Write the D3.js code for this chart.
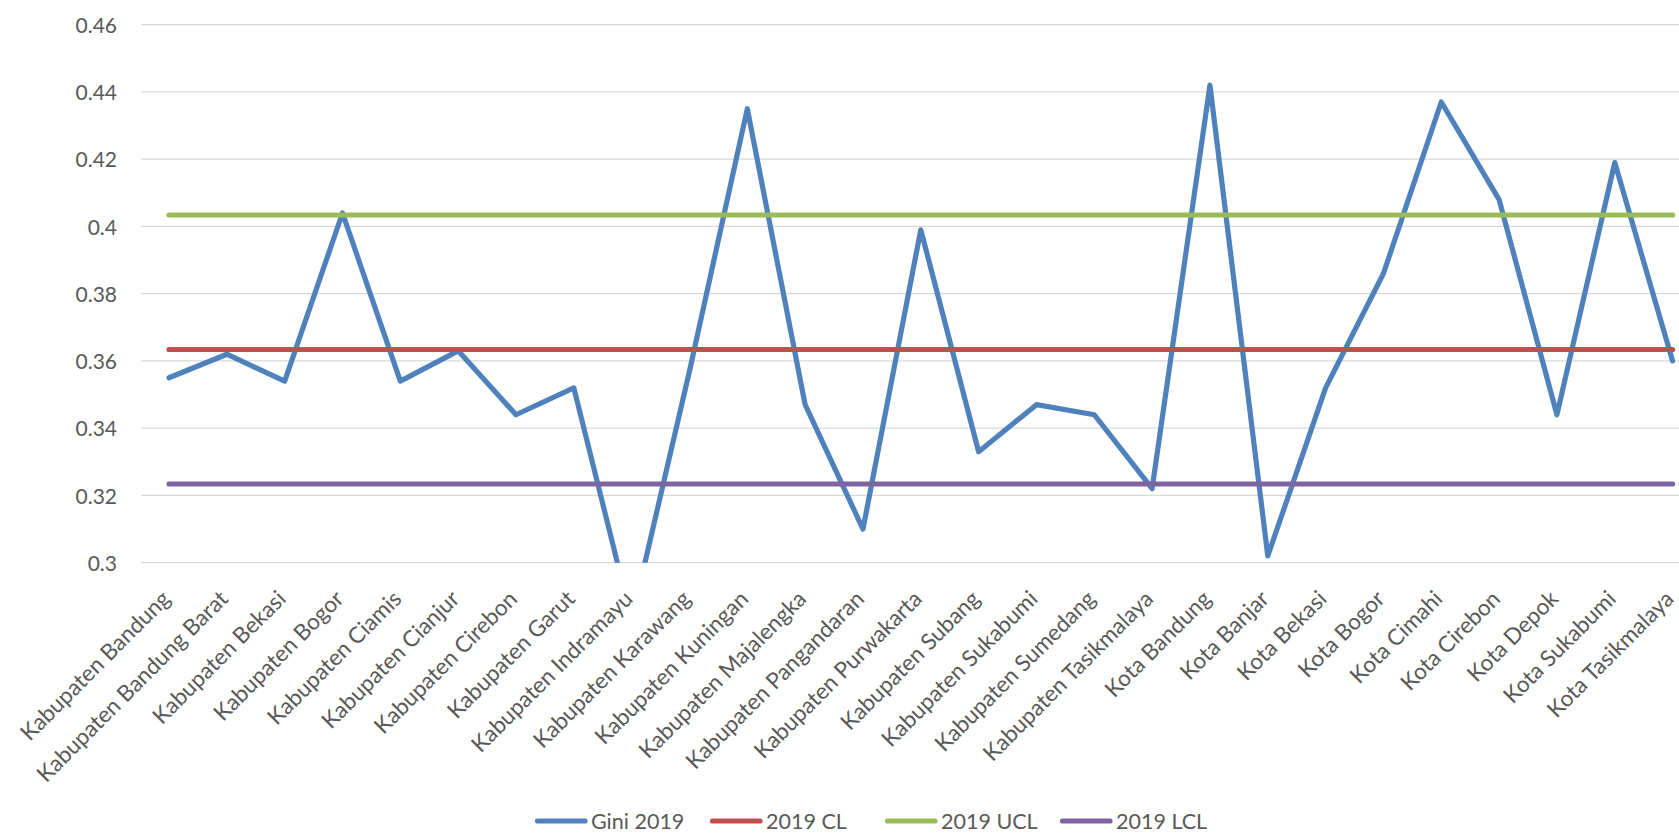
<!DOCTYPE html>
<html>
<head>
<meta charset="utf-8">
<script src="https://cdn.jsdelivr.net/npm/d3@7"></script>
<style>
  html, body { margin: 0; padding: 0; background: #fff; }
  svg { display: block; }
  text { font-family: Lato, "Open Sans", sans-serif; fill: #595959; }
</style>
</head>
<body>
<div id="chart"></div>
<script>
// Regencies (Kabupaten) and cities (Kota) of West Java
const categories = [
  "Kabupaten Bandung", "Kabupaten Bandung Barat", "Kabupaten Bekasi", "Kabupaten Bogor",
  "Kabupaten Ciamis", "Kabupaten Cianjur", "Kabupaten Cirebon", "Kabupaten Garut",
  "Kabupaten Indramayu", "Kabupaten Karawang", "Kabupaten Kuningan", "Kabupaten Majalengka",
  "Kabupaten Pangandaran", "Kabupaten Purwakarta", "Kabupaten Subang", "Kabupaten Sukabumi",
  "Kabupaten Sumedang", "Kabupaten Tasikmalaya", "Kota Bandung", "Kota Banjar",
  "Kota Bekasi", "Kota Bogor", "Kota Cimahi", "Kota Cirebon",
  "Kota Depok", "Kota Sukabumi", "Kota Tasikmalaya"
];

// Gini ratio 2019
const gini2019 = [
  0.355, 0.362, 0.354, 0.404, 0.354, 0.363, 0.344, 0.352,
  0.283, 0.357, 0.435, 0.347, 0.310, 0.399, 0.333, 0.347,
  0.344, 0.322, 0.442, 0.302, 0.352, 0.386, 0.437, 0.408,
  0.344, 0.419, 0.360
];

// Control chart limits
const cl2019 = 0.3634;
const ucl2019 = 0.4034;
const lcl2019 = 0.3234;

const yTicks = [0.30, 0.32, 0.34, 0.36, 0.38, 0.40, 0.42, 0.44, 0.46];
const yTickLabels = ["0.3", "0.32", "0.34", "0.36", "0.38", "0.4", "0.42", "0.44", "0.46"];

const seriesNames = ["Gini 2019", "2019 CL", "2019 UCL", "2019 LCL"];
const seriesColors = ["#4F81BD", "#C0504D", "#9BBB59", "#8064A2"];

const W = 1679, H = 834;
const plot = { left: 140.1, top: 24.7, bottom: 562.7, band: 57.83 };
plot.right = plot.left + plot.band * categories.length;

const svg = d3.select("#chart").append("svg")
  .attr("width", W).attr("height", H)
  .attr("viewBox", `0 0 ${W} ${H}`);

svg.append("rect").attr("width", W).attr("height", H).attr("fill", "#fff");

const x = d3.scaleBand().domain(categories).range([plot.left, plot.right]).padding(0);
const cx = c => x(c) + x.bandwidth() / 2;
const y = d3.scaleLinear().domain([0.30, 0.46]).range([plot.bottom, plot.top]);

// Horizontal gridlines
svg.append("g")
  .selectAll("line")
  .data(yTicks)
  .join("line")
  .attr("x1", plot.left + 1).attr("x2", plot.right)
  .attr("y1", d => y(d)).attr("y2", d => y(d))
  .attr("stroke", "#D9D9D9").attr("stroke-width", 1.3);

// Value axis labels
const yAxis = d3.axisLeft(y)
  .tickValues(yTicks)
  .tickFormat((d, i) => yTickLabels[i])
  .tickSize(0)
  .tickPadding(0);
const yg = svg.append("g")
  .attr("transform", `translate(117,0)`)
  .call(yAxis);
yg.select(".domain").remove();
yg.selectAll("text")
  .attr("font-family", "Lato, sans-serif")
  .attr("font-size", 21)
  .attr("fill", "#595959")
  .attr("dy", "0.36em");

// Category axis labels, rotated
const xAxis = d3.axisBottom(x).tickSize(0).tickPadding(0);
const xg = svg.append("g")
  .attr("transform", `translate(0,${plot.bottom})`)
  .call(xAxis);
xg.select(".domain").remove();
xg.selectAll(".tick text")
  .attr("font-family", "Lato, sans-serif")
  .attr("font-size", 22.5)
  .attr("fill", "#595959")
  .attr("text-anchor", "end")
  .attr("y", 0)
  .attr("dy", "0.35em")
  .attr("transform", "translate(-3,32) rotate(-45)");

// Series lines, clipped to the plot area
svg.append("clipPath").attr("id", "plot-clip")
  .append("rect")
  .attr("x", 0).attr("y", 0)
  .attr("width", W).attr("height", plot.bottom);

const lineGen = d3.line().x(d => cx(d.c)).y(d => y(d.v));

const series = [
  gini2019.map((v, i) => ({ c: categories[i], v })),
  categories.map(c => ({ c, v: cl2019 })),
  categories.map(c => ({ c, v: ucl2019 })),
  categories.map(c => ({ c, v: lcl2019 }))
];

// Series drawn in legend order
const lines = svg.append("g").attr("clip-path", "url(#plot-clip)");
series.forEach((s, i) => {
  lines.append("path")
    .datum(s)
    .attr("d", lineGen)
    .attr("fill", "none")
    .attr("stroke", seriesColors[i])
    .attr("stroke-width", 5.2)
    .attr("stroke-linejoin", "round")
    .attr("stroke-linecap", "round");
});

// Legend
const legend = svg.append("g").attr("transform", "translate(535,821)");
const item = legend.selectAll("g")
  .data(seriesNames)
  .join("g")
  .attr("transform", (d, i) => `translate(${i * 175},0)`);
item.append("line")
  .attr("x1", 2.5).attr("x2", 50)
  .attr("y1", 0).attr("y2", 0)
  .attr("stroke", (d, i) => seriesColors[i])
  .attr("stroke-width", 5.2)
  .attr("stroke-linecap", "round");
item.append("text")
  .attr("x", 56).attr("y", 0).attr("dy", "0.36em")
  .attr("font-size", 21.5)
  .text(d => d);
</script>
</body>
</html>
